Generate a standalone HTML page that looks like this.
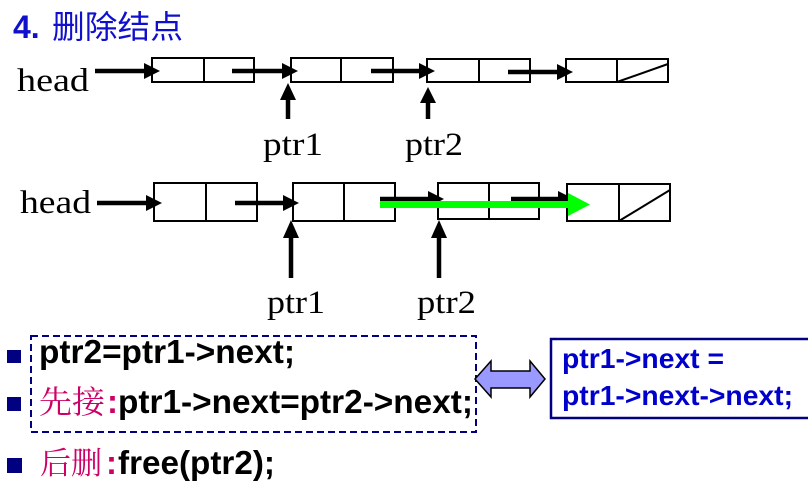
<!DOCTYPE html>
<html>
<head>
<meta charset="utf-8">
<style>
html,body{margin:0;padding:0;background:#fff;}
svg{display:block;}
.serif{font-family:"Liberation Serif","Noto Serif CJK SC",serif;}
.sans{font-family:"Liberation Sans","Noto Sans CJK SC",sans-serif;}
</style>
</head>
<body>
<svg width="808" height="503" viewBox="0 0 808 503" xmlns="http://www.w3.org/2000/svg">
  <!-- Title -->
  <text x="13" y="38" class="sans" font-size="32" font-weight="bold" fill="#1010CC">4.</text>
  <text x="52" y="38" font-family="'Noto Sans CJK SC',sans-serif" font-size="32" fill="#1010CC" textLength="131" lengthAdjust="spacingAndGlyphs">删除结点</text>

  <!-- Row 1 -->
  <g fill="none" stroke="#000" stroke-width="2">
    <rect x="152" y="58" width="102" height="24"/><line x1="204" y1="58" x2="204" y2="82"/>
    <rect x="291" y="58" width="102" height="24"/><line x1="341" y1="58" x2="341" y2="82"/>
    <rect x="427" y="59" width="103" height="23"/><line x1="479" y1="59" x2="479" y2="82"/>
    <rect x="566" y="59" width="102" height="23"/><line x1="617" y1="59" x2="617" y2="82"/>
    <line x1="617" y1="82" x2="668" y2="64"/>
  </g>
  <g stroke="#000" stroke-width="4.5">
    <line x1="95" y1="71" x2="146" y2="71"/>
    <line x1="232" y1="71" x2="284" y2="71"/>
    <line x1="371" y1="71" x2="421" y2="71"/>
    <line x1="508" y1="72" x2="559" y2="72"/>
    <line x1="288" y1="119" x2="288" y2="97"/>
    <line x1="428" y1="119" x2="428" y2="101"/>
  </g>
  <g fill="#000">
    <polygon points="144,63 160,71 144,79"/>
    <polygon points="282,63 298,71 282,79"/>
    <polygon points="419,63 435,71 419,79"/>
    <polygon points="557,64 573,72 557,80"/>
    <polygon points="280,100 288,83 296,100"/>
    <polygon points="420,103 428,87 436,103"/>
  </g>
  <text x="17" y="91" class="serif" font-size="33" fill="#000" textLength="72" lengthAdjust="spacingAndGlyphs">head</text>
  <text x="263" y="155" class="serif" font-size="33" fill="#000" textLength="60" lengthAdjust="spacingAndGlyphs">ptr1</text>
  <text x="405" y="155" class="serif" font-size="33" fill="#000" textLength="58" lengthAdjust="spacingAndGlyphs">ptr2</text>

  <!-- Row 2 -->
  <g fill="none" stroke="#000" stroke-width="2">
    <rect x="154" y="183" width="103" height="38"/><line x1="206" y1="183" x2="206" y2="221"/>
    <rect x="293" y="183" width="102" height="38"/><line x1="344" y1="183" x2="344" y2="221"/>
    <rect x="438" y="183" width="101" height="36"/><line x1="489" y1="183" x2="489" y2="219"/>
    <rect x="567" y="184" width="103" height="37"/><line x1="619" y1="184" x2="619" y2="221"/>
    <line x1="619" y1="221" x2="670" y2="190"/>
  </g>
  <g stroke="#000" stroke-width="4.5">
    <line x1="97" y1="203" x2="148" y2="203"/>
    <line x1="235" y1="203" x2="285" y2="203"/>
    <line x1="380" y1="199" x2="430" y2="199"/>
    <line x1="511" y1="199" x2="560" y2="199"/>
    <line x1="291" y1="278" x2="291" y2="236"/>
    <line x1="439" y1="278" x2="439" y2="236"/>
  </g>
  <g fill="#000">
    <polygon points="146,195 162,203 146,211"/>
    <polygon points="283,195 299,203 283,211"/>
    <polygon points="428,191 444,199 428,207"/>
    <polygon points="558,191 574,199 558,207"/>
    <polygon points="283,238 291,220 299,238"/>
    <polygon points="431,238 439,220 447,238"/>
  </g>
  <line x1="380" y1="204.5" x2="570" y2="204.5" stroke="#00FF00" stroke-width="7"/>
  <polygon points="568,193 590,204.5 568,216" fill="#00FF00"/>
  <text x="20" y="213" class="serif" font-size="33" fill="#000" textLength="71" lengthAdjust="spacingAndGlyphs">head</text>
  <text x="267" y="313" class="serif" font-size="33" fill="#000" textLength="58" lengthAdjust="spacingAndGlyphs">ptr1</text>
  <text x="417" y="313" class="serif" font-size="33" fill="#000" textLength="59" lengthAdjust="spacingAndGlyphs">ptr2</text>

  <!-- Bottom code section -->
  <rect x="31" y="336" width="445" height="96" fill="none" stroke="#000080" stroke-width="2" stroke-dasharray="7,4"/>
  <g fill="#000080">
    <rect x="7" y="350" width="14" height="13"/>
    <rect x="7" y="397" width="14" height="14"/>
    <rect x="7" y="458" width="15" height="15"/>
  </g>
  <text x="39" y="363" class="sans" font-size="33" font-weight="bold" fill="#000" textLength="256" lengthAdjust="spacingAndGlyphs">ptr2=ptr1-&gt;next;</text>

  <text x="39" y="413" font-family="'Noto Serif CJK SC',serif" font-size="32" fill="#CC0066" textLength="66" lengthAdjust="spacingAndGlyphs">先接</text>
  <text x="107" y="413" class="sans" font-size="33" font-weight="bold" fill="#CC0066">:</text>
  <text x="118" y="413" class="sans" font-size="33" font-weight="bold" fill="#000" textLength="355" lengthAdjust="spacingAndGlyphs">ptr1-&gt;next=ptr2-&gt;next;</text>

  <text x="40" y="474" font-family="'Noto Serif CJK SC',serif" font-size="31" fill="#CC0066" textLength="62" lengthAdjust="spacingAndGlyphs">后删</text>
  <text x="106" y="474" class="sans" font-size="33" font-weight="bold" fill="#CC0066">:</text>
  <text x="118" y="474" class="sans" font-size="33" font-weight="bold" fill="#000" textLength="157" lengthAdjust="spacingAndGlyphs">free(ptr2);</text>

  <!-- Double arrow -->
  <path d="M475,379 L491,361 L491,371 L530,371 L530,361 L545,379 L530,397 L530,388 L491,388 L491,397 Z" fill="#9999FF" stroke="#000" stroke-width="1.5" stroke-linejoin="miter"/>

  <!-- Right box -->
  <rect x="551" y="339" width="270" height="79" fill="#fff" stroke="#000080" stroke-width="2.5"/>
  <text x="562" y="368" class="sans" font-size="28" font-weight="bold" fill="#0000CC" textLength="162" lengthAdjust="spacingAndGlyphs">ptr1-&gt;next =</text>
  <text x="562" y="405" class="sans" font-size="28" font-weight="bold" fill="#0000CC" textLength="231" lengthAdjust="spacingAndGlyphs">ptr1-&gt;next-&gt;next;</text>
</svg>
</body>
</html>
